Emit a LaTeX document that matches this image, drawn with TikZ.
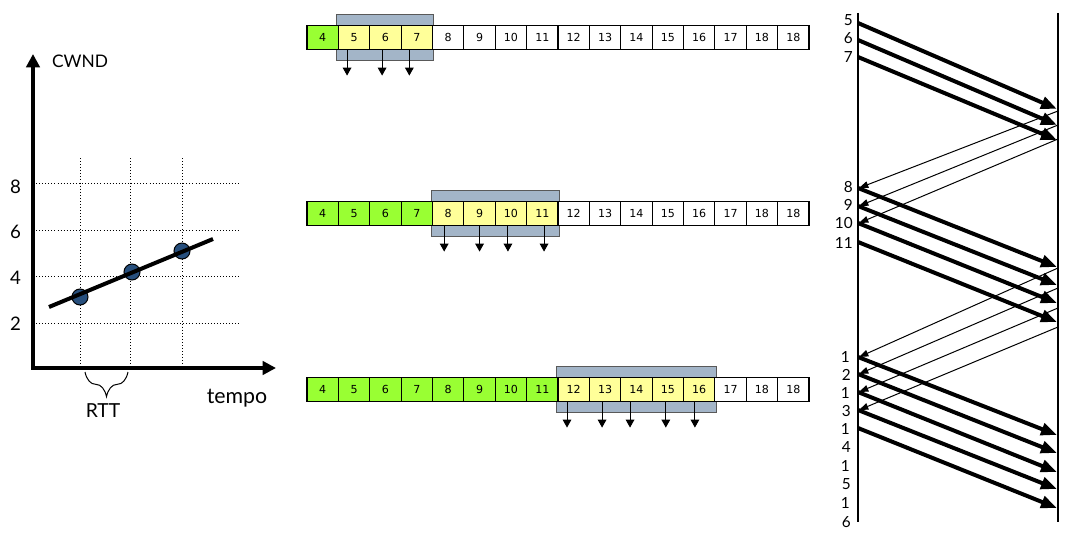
\documentclass[tikz,border=0pt]{standalone}
\usepackage{fontspec}
\setmainfont{Lato}
\newfontfamily\cellfont{DejaVu Sans}
\usetikzlibrary{arrows.meta,fit,backgrounds,decorations.pathreplacing}
\definecolor{done}{HTML}{99FF33}
\definecolor{sent}{HTML}{FFFF99}
\definecolor{wingray}{HTML}{A3B5C8}
\definecolor{dotblue}{HTML}{274F7D}
\begin{document}
\begin{tikzpicture}[x=0.75pt,y=-0.75pt,
  cell/.style={draw=black, line width=0.9pt, minimum width=23.53pt, minimum height=18pt, inner sep=0pt, font=\cellfont\fontsize{8.3}{9}\selectfont, fill=white},
  greencell/.style={cell, fill=done},
  yellowcell/.style={cell, fill=sent},
  win/.style={draw=black!65, line width=0.75pt, fill=wingray, inner xsep=0.6pt, inner ysep=7.5pt},
  dnarrow/.style={line width=0.75pt, -{Triangle[length=6pt,width=6.5pt]}},
  axis/.style={line width=3pt, -{Triangle[length=10pt,width=10pt]}},
  grid line/.style={line width=0.7pt, dash pattern=on 0.7pt off 1.6pt},
  dot/.style={circle, draw=black, line width=0.75pt, fill=dotblue, minimum size=12pt, inner sep=0pt},
  axlabel/.style={font=\fontsize{14}{16}\selectfont},
  seg/.style={line width=3pt, -{Triangle[length=12pt,width=9pt]}},
  ack/.style={line width=0.75pt, -{Triangle[length=7pt,width=5pt]}},
  tline/.style={line width=0.9pt},
  seqlabel/.style={anchor=east, inner sep=0pt, font=\fontsize{11.5}{13}\selectfont}
]
\useasboundingbox (0,0) rectangle (1079,535);

% ---------------- left graph ----------------
\coordinate (O) at (33,368);
\coordinate (Ytip) at (33,54);
\coordinate (Xtip) at (276,368);
\foreach \x in {80,130,182} \draw[grid line] (\x,158) -- (\x,368);
\foreach \y in {183,230,276,323} \draw[grid line] (33,\y) -- (240,\y);
\draw[axis] (O) -- (Ytip);
\draw[axis] ([xshift=-1.5pt]O) -- (Xtip);
\node[axlabel] (l8) at (15.5,187) {8};
\node[axlabel] (l6) at (15.5,232) {6};
\node[axlabel] (l4) at (15.5,278) {4};
\node[axlabel] (l2) at (15.5,324) {2};
\node[font=\fontsize{13}{15}\selectfont] (cwnd) at (80,61) {CWND};
\node[font=\fontsize{16}{18}\selectfont] (tempo) at (237,398) {tempo};
\node[font=\fontsize{14.5}{16}\selectfont] (rtt) at (103,411) {RTT};
\node[dot] (p1) at (80,297) {};
\node[dot] (p2) at (132,272) {};
\node[dot] (p3) at (182,251) {};
\coordinate (tl1) at (49,307);
\coordinate (tl2) at (213,239);
\draw[line width=3pt] (tl1) -- (tl2);
\coordinate (b1) at (85,372);
\coordinate (b2) at (128,372);
\draw[line width=0.75pt, decorate, decoration={brace, mirror, amplitude=18.5pt}] (b1) -- (b2);

% ---------------- sliding windows ----------------
% top row
\foreach \i/\t in {0/4} \node[greencell] (t\i) at ({307+31.375*(\i+0.5)},37.5) {\t};
\foreach \i/\t in {1/5,2/6,3/7} \node[yellowcell] (t\i) at ({307+31.375*(\i+0.5)},37.5) {\t};
\foreach \i/\t in {4/8,5/9,6/10,7/11,8/12,9/13,10/14,11/15,12/16,13/17,14/18,15/18} \node[cell] (t\i) at ({307+31.375*(\i+0.5)},37.5) {\t};
% middle row
\foreach \i/\t in {0/4,1/5,2/6,3/7} \node[greencell] (m\i) at ({307+31.375*(\i+0.5)},213.5) {\t};
\foreach \i/\t in {4/8,5/9,6/10,7/11} \node[yellowcell] (m\i) at ({307+31.375*(\i+0.5)},213.5) {\t};
\foreach \i/\t in {8/12,9/13,10/14,11/15,12/16,13/17,14/18,15/18} \node[cell] (m\i) at ({307+31.375*(\i+0.5)},213.5) {\t};
% bottom row
\foreach \i/\t in {0/4,1/5,2/6,3/7,4/8,5/9,6/10,7/11} \node[greencell] (b\i) at ({307+31.375*(\i+0.5)},389.5) {\t};
\foreach \i/\t in {8/12,9/13,10/14,11/15,12/16} \node[yellowcell] (b\i) at ({307+31.375*(\i+0.5)},389.5) {\t};
\foreach \i/\t in {13/17,14/18,15/18} \node[cell] (b\i) at ({307+31.375*(\i+0.5)},389.5) {\t};

\begin{scope}[on background layer]
  \node[win, fit=(t1)(t3)] (wt) {};
  \node[win, fit=(m4)(m7)] (wm) {};
  \node[win, fit=(b8)(b12)] (wb) {};
\end{scope}

\draw[dnarrow] ([xshift=-5.25pt]t1.south) -- ++(0,25.5);
\draw[dnarrow] ([xshift=-2.5pt]t2.south) -- ++(0,25.5);
\draw[dnarrow] ([xshift=-5.6pt]t3.south) -- ++(0,25.5);

\draw[dnarrow] ([xshift=-3pt]m4.south) -- ++(0,25.5);
\draw[dnarrow] ([xshift=0pt]m5.south) -- ++(0,25.5);
\draw[dnarrow] ([xshift=-2.25pt]m6.south) -- ++(0,25.5);
\draw[dnarrow] ([xshift=1.3pt]m7.south) -- ++(0,25.5);

\draw[dnarrow] ([xshift=-5pt]b8.south) -- ++(0,25.5);
\draw[dnarrow] ([xshift=-2.25pt]b9.south) -- ++(0,25.5);
\draw[dnarrow] ([xshift=-4.8pt]b10.south) -- ++(0,25.5);
\draw[dnarrow] ([xshift=-1.5pt]b11.south) -- ++(0,25.5);
\draw[dnarrow] ([xshift=-3.2pt]b12.south) -- ++(0,25.5);

% ---------------- timeline ----------------
\coordinate (Ltop) at (858,13);
\coordinate (Lbot) at (858,522);
\coordinate (Rtop) at (1058,13);
\coordinate (Rbot) at (1058,522);
\draw[tline] (Ltop) -- (Lbot);
\draw[tline] (Rtop) -- (Rbot);

% batch 1
\coordinate (s5) at (858,23);  \coordinate (e5) at (1057,109);
\coordinate (s6) at (858,40);  \coordinate (e6) at (1057,125);
\coordinate (s7) at (858,57);  \coordinate (e7) at (1057,140);
\draw[seg] (s5) -- (e5);
\draw[seg] (s6) -- (e6);
\draw[seg] (s7) -- (e7);
% acks 1
\coordinate (a1s) at (1058,111); \coordinate (a1e) at (859,188);
\coordinate (a2s) at (1058,125); \coordinate (a2e) at (859,206);
\coordinate (a3s) at (1058,139); \coordinate (a3e) at (859,223);
\draw[ack] (a1s) -- (a1e);
\draw[ack] (a2s) -- (a2e);
\draw[ack] (a3s) -- (a3e);
% batch 2
\coordinate (s8) at (858,188);  \coordinate (e8) at (1057,267);
\coordinate (s9) at (858,206);  \coordinate (e9) at (1057,285);
\coordinate (s10) at (858,223); \coordinate (e10) at (1057,303);
\coordinate (s11) at (858,242); \coordinate (e11) at (1057,322);
\draw[seg] (s8) -- (e8);
\draw[seg] (s9) -- (e9);
\draw[seg] (s10) -- (e10);
\draw[seg] (s11) -- (e11);
% acks 2
\coordinate (a4s) at (1058,268); \coordinate (a4e) at (859,357);
\coordinate (a5s) at (1058,288); \coordinate (a5e) at (859,374);
\coordinate (a6s) at (1058,308); \coordinate (a6e) at (859,392);
\coordinate (a7s) at (1058,327); \coordinate (a7e) at (859,410);
\draw[ack] (a4s) -- (a4e);
\draw[ack] (a5s) -- (a5e);
\draw[ack] (a6s) -- (a6e);
\draw[ack] (a7s) -- (a7e);
% batch 3
\coordinate (s12) at (858,357); \coordinate (e12) at (1057,435);
\coordinate (s13) at (858,374); \coordinate (e13) at (1057,453);
\coordinate (s14) at (858,392); \coordinate (e14) at (1057,472);
\coordinate (s15) at (858,410); \coordinate (e15) at (1057,489);
\coordinate (s16) at (858,428); \coordinate (e16) at (1057,508);
\draw[seg] (s12) -- (e12);
\draw[seg] (s13) -- (e13);
\draw[seg] (s14) -- (e14);
\draw[seg] (s15) -- (e15);
\draw[seg] (s16) -- (e16);

% sequence labels
\node[seqlabel] (n5) at (853,20) {5};
\node[seqlabel] (n6) at (853,38) {6};
\node[seqlabel] (n7) at (853,57) {7};
\node[seqlabel] (n8) at (853,187) {8};
\node[seqlabel] (n9) at (853,205) {9};
\node[seqlabel] (n10) at (853,223) {10};
\node[seqlabel] (n11) at (853,243) {11};
\node[seqlabel] (n12a) at (850,357) {1};
\node[seqlabel] (n12b) at (851,375) {2};
\node[seqlabel] (n13a) at (850,393) {1};
\node[seqlabel] (n13b) at (851,411) {3};
\node[seqlabel] (n14a) at (850,429) {1};
\node[seqlabel] (n14b) at (851,447) {4};
\node[seqlabel] (n15a) at (850,466) {1};
\node[seqlabel] (n15b) at (851,484) {5};
\node[seqlabel] (n16a) at (850,503) {1};
\node[seqlabel] (n16b) at (851,522) {6};
\end{tikzpicture}
\end{document}
